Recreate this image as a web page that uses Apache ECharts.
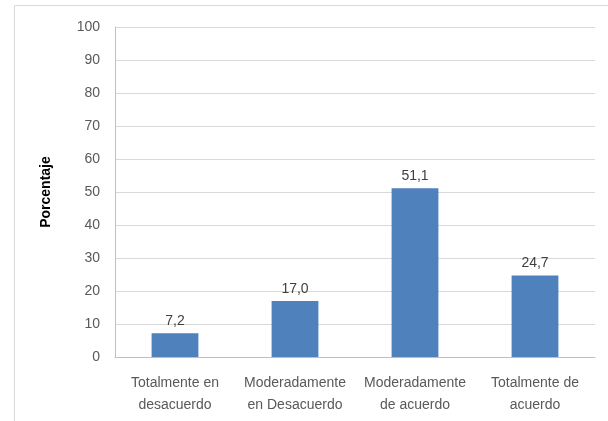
<!DOCTYPE html>
<html>
<head>
<meta charset="utf-8">
<script src="https://cdn.jsdelivr.net/npm/echarts@6/dist/echarts.min.js"></script>
<style>
  html, body { margin: 0; padding: 0; background: #fff; }
  #chart { width: 608px; height: 421px; }
</style>
</head>
<body>
<div id="chart"></div>
<script>
// datos de la grafica
const categories = ['Totalmente en\ndesacuerdo', 'Moderadamente\nen Desacuerdo', 'Moderadamente\nde acuerdo', 'Totalmente de\nacuerdo']
const values = [7.2, 17.0, 51.1, 24.7]
const yTicks = [0, 100, 10]  // min, max, interval

const fontFam = '"Liberation Sans Narrow", "Liberation Sans", sans-serif'

const chart = echarts.init(document.getElementById('chart'))
chart.setOption({
  animation: false,
  graphic: [{
    type: 'rect',
    shape: { x: 14.5, y: 5.5, width: 700, height: 500 },
    style: { fill: 'none', stroke: '#d9d9d9', lineWidth: 1 }
  }],
  grid: { left: 115, right: 13, top: 27, bottom: 64 },
  xAxis: {
    type: 'category',
    data: categories,
    axisLine: { lineStyle: { color: '#bfbfbf' } },
    axisTick: { show: false },
    axisLabel: {
      color: '#595959',
      fontFamily: fontFam,
      fontSize: 14,
      lineHeight: 22,
      margin: 15,
      interval: 0
    }
  },
  yAxis: {
    type: 'value',
    min: yTicks[0],
    max: yTicks[1],
    interval: yTicks[2],
    name: 'Porcentaje',
    nameLocation: 'middle',
    nameGap: 62,
    nameTextStyle: { color: '#000', fontWeight: 'bold', fontSize: 14, fontFamily: 'Liberation Sans, sans-serif' },
    axisLine: { show: true, lineStyle: { color: '#bfbfbf' } },
    axisTick: { show: false },
    axisLabel: { color: '#595959', fontFamily: fontFam, fontSize: 14, margin: 15 },
    splitLine: { lineStyle: { color: '#d9d9d9' } }
  },
  series: [{
    type: 'bar',
    data: values,
    barWidth: '39%',
    itemStyle: { color: '#4f81bd' },
    label: {
      show: true,
      position: 'top',
      distance: 5,
      color: '#404040',
      fontFamily: fontFam,
      fontSize: 14,
      formatter: p => p.value.toFixed(1).replace('.', ',')
    }
  }]
})
</script>
</body>
</html>
